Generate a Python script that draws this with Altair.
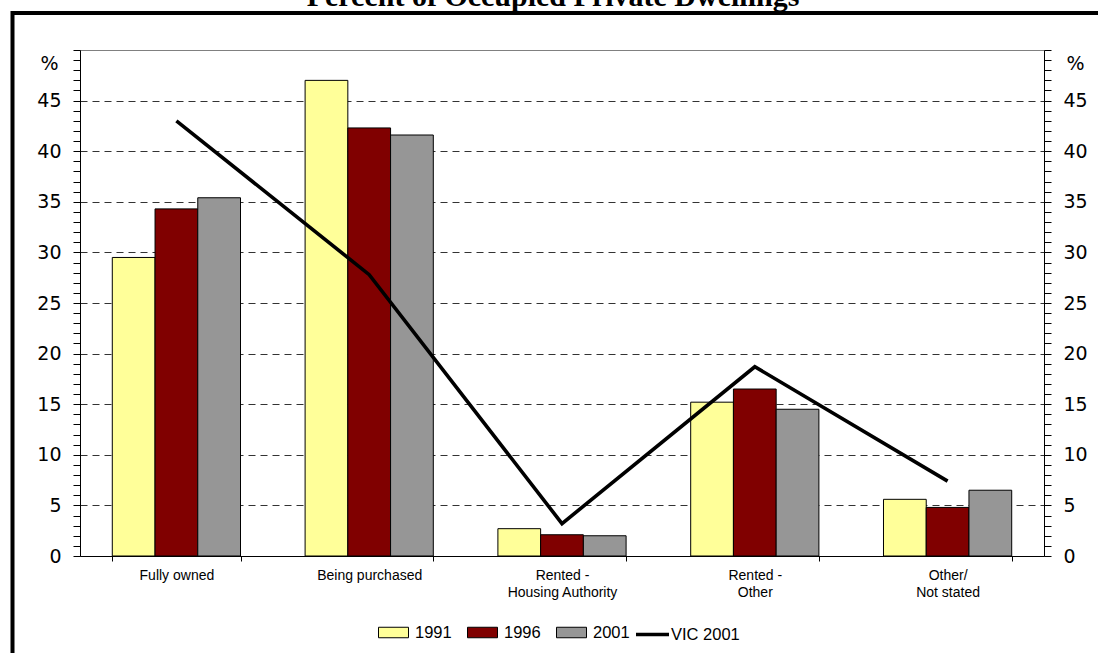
import altair as alt
import pandas as pd

chart_title = "Percent of Occupied Private Dwellings"

# Tenure categories (line breaks are kept for the two-line axis labels)
categories = [
    "Fully owned",
    "Being purchased",
    "Rented -\nHousing Authority",
    "Rented -\nOther",
    "Other/\nNot stated",
]
years = ["1991", "1996", "2001"]

# Percent of occupied private dwellings, by census year
share_1991 = [29.5, 47.0, 2.7, 15.2, 5.6]
share_1996 = [34.3, 42.3, 2.1, 16.5, 4.8]
share_2001 = [35.4, 41.6, 2.0, 14.5, 6.5]

# Victorian state average, 2001
vic_2001 = [43.0, 27.8, 3.2, 18.7, 7.4]

year_colors = ["#FFFF99", "#800000", "#969696"]

bar_rows = []
for year, values in zip(years, [share_1991, share_1996, share_2001]):
    for cat, v in zip(categories, values):
        bar_rows.append({"category": cat, "series": year, "value": v})
bar_df = pd.DataFrame(bar_rows)

line_df = pd.DataFrame(
    {"category": categories, "series": ["VIC 2001"] * len(categories), "value": vic_2001}
)

y_scale = alt.Scale(domain=[0, 50], nice=False, zero=True)

tick_values = list(range(0, 51))
label_rule = "datum.value % 5 == 0 && datum.value < 50 ? datum.label : ''"

common_y = dict(
    values=tick_values,
    labelExpr=label_rule,
    labelOverlap=False,
    tickSize=7,
    tickColor="black",
    domainColor="black",
    labelFont="DejaVu Sans",
    labelFontSize=19,
    labelColor="black",
    labelPadding=12,
    title="%",
    titleAngle=0,
    titleBaseline="middle",
    titleY=13,
    titleFont="DejaVu Sans",
    titleFontSize=19,
    titleFontWeight="normal",
    titleColor="black",
)

left_axis = alt.Axis(
    orient="left",
    grid=True,
    gridDash=[7, 5],
    gridColor="#333333",
    gridWidth=1,
    gridOpacity={
        "condition": {
            "test": "datum.value % 5 == 0 && datum.value > 0 && datum.value < 50",
            "value": 1,
        },
        "value": 0,
    },
    titleAlign="right",
    titleX=-22,
    **common_y,
)

right_axis = alt.Axis(
    orient="right",
    grid=False,
    titleAlign="left",
    titleX=22,
    **common_y,
)

x_axis = alt.Axis(
    title=None,
    labelAngle=0,
    labelExpr="split(datum.label, '\\n')",
    labelFont="Liberation Sans",
    labelFontSize=14,
    labelColor="black",
    labelLineHeight=17,
    labelPadding=7,
    labelBaseline="top",
    tickBand="extent",
    tickSize=5,
    tickColor="black",
    domainColor="black",
    grid=False,
)

legend_text = dict(
    labelFont="Liberation Sans",
    labelFontSize=16.5,
    labelColor="black",
    title=None,
    orient="none",
    direction="horizontal",
    padding=0,
)

bar_legend = alt.Legend(
    legendX=298,
    legendY=567,
    symbolSize=900,
    symbolType="M-1,-0.35H1V0.35H-1Z",
    symbolStrokeColor="black",
    symbolStrokeWidth=1,
    symbolOpacity=1,
    labelOffset=6,
    columnPadding=13,
    **legend_text,
)

line_legend = alt.Legend(
    legendX=554,
    legendY=566,
    symbolSize=1089,
    symbolType="stroke",
    symbolStrokeWidth=3.5,
    labelOffset=0,
    **legend_text,
)

# Outer frame around the whole figure
frame = (
    alt.Chart(alt.Data(values=[{}]))
    .mark_rect(fill="transparent", stroke="black", strokeWidth=4)
    .encode(
        x=alt.value(-67.5),
        x2=alt.value(1040),
        y=alt.value(-37),
        y2=alt.value(700),
    )
)

# Heading above the frame
heading = (
    alt.Chart(alt.Data(values=[{}]))
    .mark_text(
        font="Liberation Serif",
        fontSize=30,
        fontWeight="bold",
        color="black",
        align="center",
        baseline="alphabetic",
    )
    .encode(x=alt.value(473), y=alt.value(-44), text=alt.value(chart_title))
)

bars = (
    alt.Chart(bar_df)
    .mark_bar(stroke="black", strokeWidth=1)
    .encode(
        x=alt.X(
            "category:N",
            sort=categories,
            scale=alt.Scale(paddingInner=0.335, paddingOuter=0.1675),
            axis=x_axis,
        ),
        xOffset=alt.XOffset("series:N", sort=years, scale=alt.Scale(paddingInner=0, paddingOuter=0)),
        y=alt.Y("value:Q", scale=y_scale, axis=left_axis),
        fill=alt.Fill("series:N", sort=years, scale=alt.Scale(domain=years, range=year_colors), legend=bar_legend),
    )
)

line = (
    alt.Chart(line_df)
    .mark_line(strokeWidth=3.6)
    .encode(
        x=alt.X("category:N", sort=categories),
        y=alt.Y("value:Q", scale=y_scale, axis=right_axis),
        stroke=alt.Stroke("series:N", scale=alt.Scale(domain=["VIC 2001"], range=["#000000"]), legend=line_legend),
    )
)

chart = (
    alt.layer(frame, heading, bars, line)
    .resolve_scale(y="shared")
    .resolve_axis(y="independent")
    .properties(
        width=964,
        height=506,
        autosize=alt.AutoSizeParams(type="none"),
        padding={"left": 80, "top": 50, "right": 54, "bottom": 97},
        background="white",
    )
    .configure_view(stroke="#808080", strokeWidth=1)
)

chart.save("out.html", embed_options={"renderer": "svg", "actions": False})
